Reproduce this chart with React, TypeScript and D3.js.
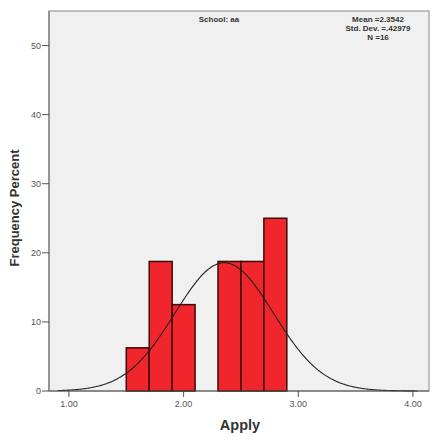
import React from "react";
import * as d3 from "d3";

const binStarts = [1.5, 1.7, 1.9, 2.3, 2.5, 2.7];
const binWidth = 0.2;
const percents = [6.25, 18.75, 12.5, 18.75, 18.75, 25];
const xTicks = [1, 2, 3, 4];
const yTicks = [0, 10, 20, 30, 40, 50];
const statsLines = ["Mean =2.3542", "Std. Dev. =.42979", "N =16"];
const mean = 2.3542;
const sd = 0.42979;
const panelTitle = "School: aa";
const xLabel = "Apply";
const yLabel = "Frequency Percent";

const W = 432;
const H = 437;
const L = 49, R = 429, T = 11, B = 391;

export default function App() {
  const x = d3.scaleLinear().domain([0.826, 4.14]).range([L, R]);
  const y = d3.scaleLinear().domain([0, 55]).range([B, T]);
  const pdf = (v: number) =>
    Math.exp(-0.5 * ((v - mean) / sd) ** 2) / (sd * Math.sqrt(2 * Math.PI));
  const pts = d3.range(0.9, 4.05, 0.01).map((v) => [v, 100 * binWidth * pdf(v)] as [number, number]);
  const line = d3
    .line<[number, number]>()
    .x((d) => x(d[0]))
    .y((d) => y(d[1]))
    .curve(d3.curveBasis);
  const font = "'Liberation Sans', Arial, sans-serif";
  return (
    <svg width={W} height={H} style={{ position: "absolute", left: 0, top: 0, background: "#fff" }}>
      <rect x={L} y={T} width={R - L} height={B - T} fill="#f0f0f0" stroke="#9a9a9a" strokeWidth={1.2} />
      {binStarts.map((s, i) => (
        <rect
          key={i}
          x={x(s)}
          y={y(percents[i])}
          width={x(s + binWidth) - x(s)}
          height={y(0) - y(percents[i])}
          fill="#f0262c"
          stroke="#3f0808"
          strokeWidth={1.5}
        />
      ))}
      <path d={line(pts) || ""} fill="none" stroke="#222" strokeWidth={1.1} />
      <line x1={L} x2={R} y1={B} y2={B} stroke="#555" strokeWidth={1.2} />
      <line x1={L} x2={L} y1={T} y2={B} stroke="#777" strokeWidth={1.2} />
      {yTicks.map((t) => (
        <g key={t}>
          <line x1={L - 7} x2={L} y1={y(t)} y2={y(t)} stroke="#555" strokeWidth={1} />
          <text x={L - 8} y={y(t) + 3} fontSize={9} fill="#555" textAnchor="end" fontFamily={font}>
            {t}
          </text>
        </g>
      ))}
      {xTicks.map((t) => (
        <g key={t}>
          <line x1={x(t)} x2={x(t)} y1={B} y2={B + 6} stroke="#555" strokeWidth={1} />
          <text x={x(t)} y={B + 16} fontSize={9} fill="#555" textAnchor="middle" fontFamily={font}>
            {d3.format(".2f")(t)}
          </text>
        </g>
      ))}
      <text x={(L + R) / 2 + 1} y={430} fontSize={14.5} fontWeight="bold" fill="#333" textAnchor="middle" fontFamily={font}>
        {xLabel}
      </text>
      <text
        transform={`translate(19, 208) rotate(-90)`}
        fontSize={13}
        fontWeight="bold"
        fill="#333"
        textAnchor="middle"
        fontFamily={font}
      >
        {yLabel}
      </text>
      <text x={219} y={22} fontSize={8} fontWeight="bold" fill="#333" textAnchor="middle" fontFamily={font}>
        {panelTitle}
      </text>
      {statsLines.map((s, i) => (
        <text key={i} x={378} y={22 + i * 9} fontSize={8} fontWeight="bold" fill="#333" textAnchor="middle" fontFamily={font}>
          {s}
        </text>
      ))}
    </svg>
  );
}
